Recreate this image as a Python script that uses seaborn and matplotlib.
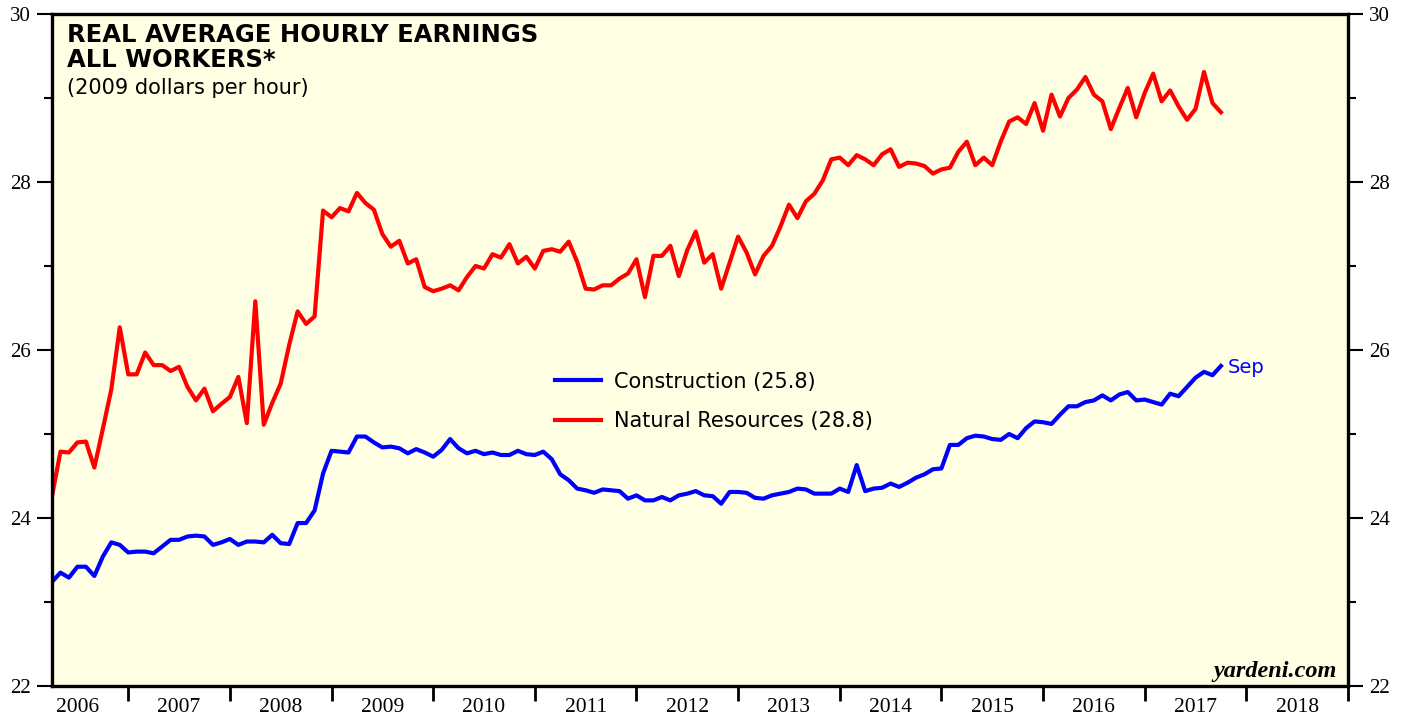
import numpy as np
import pandas as pd
import matplotlib
matplotlib.use("Agg")
import matplotlib.pyplot as plt
from matplotlib.ticker import FixedLocator, NullFormatter, FixedFormatter
import seaborn as sns

# ---------------- data (monthly, Mar 2006 - Sep 2017) ----------------
start_year, start_month = 2006, 3
series_names = ["Construction", "Natural Resources"]
legend_labels = ["Construction (25.8)", "Natural Resources (28.8)"]

construction = [
    23.24, 23.35, 23.29, 23.42, 23.42, 23.31, 23.54, 23.71, 23.68, 23.59,
    23.60, 23.60, 23.58, 23.66, 23.74, 23.74, 23.78, 23.79, 23.78, 23.68,
    23.71, 23.75, 23.68, 23.72, 23.72, 23.71, 23.80, 23.70, 23.69, 23.94,
    23.94, 24.09, 24.53, 24.80, 24.79, 24.78, 24.97, 24.97, 24.90, 24.84,
    24.85, 24.83, 24.77, 24.82, 24.78, 24.73, 24.81, 24.94, 24.83, 24.77,
    24.80, 24.76, 24.78, 24.75, 24.75, 24.80, 24.76, 24.75, 24.79, 24.70,
    24.52, 24.45, 24.35, 24.33, 24.30, 24.34, 24.33, 24.32, 24.23, 24.27,
    24.21, 24.21, 24.25, 24.21, 24.27, 24.29, 24.32, 24.27, 24.26, 24.17,
    24.31, 24.31, 24.30, 24.24, 24.23, 24.27, 24.29, 24.31, 24.35, 24.34,
    24.29, 24.29, 24.29, 24.35, 24.31, 24.63, 24.32, 24.35, 24.36, 24.41,
    24.37, 24.42, 24.48, 24.52, 24.58, 24.59, 24.87, 24.87, 24.95, 24.98,
    24.97, 24.94, 24.93, 25.00, 24.95, 25.07, 25.15, 25.14, 25.12, 25.23,
    25.33, 25.33, 25.38, 25.40, 25.46, 25.40, 25.47, 25.50, 25.40, 25.41,
    25.38, 25.35, 25.48, 25.45, 25.56, 25.67, 25.74, 25.70, 25.81,
]

natural_resources = [
    24.26, 24.79, 24.78, 24.90, 24.91, 24.60, 25.06, 25.53, 26.27, 25.71,
    25.71, 25.97, 25.82, 25.82, 25.75, 25.80, 25.56, 25.40, 25.54, 25.27,
    25.36, 25.44, 25.68, 25.13, 26.58, 25.11, 25.37, 25.60, 26.06, 26.46,
    26.31, 26.40, 27.66, 27.58, 27.69, 27.65, 27.87, 27.75, 27.67, 27.38,
    27.23, 27.30, 27.03, 27.08, 26.75, 26.70, 26.73, 26.77, 26.71, 26.87,
    27.00, 26.97, 27.14, 27.10, 27.26, 27.03, 27.11, 26.97, 27.18, 27.20,
    27.17, 27.29, 27.05, 26.73, 26.72, 26.77, 26.77, 26.85, 26.91, 27.08,
    26.63, 27.12, 27.12, 27.24, 26.88, 27.19, 27.41, 27.04, 27.14, 26.73,
    27.04, 27.35, 27.16, 26.90, 27.12, 27.24, 27.47, 27.73, 27.57, 27.77,
    27.86, 28.02, 28.27, 28.29, 28.20, 28.32, 28.27, 28.20, 28.33, 28.39,
    28.18, 28.23, 28.22, 28.19, 28.10, 28.15, 28.17, 28.36, 28.48, 28.20,
    28.29, 28.20, 28.48, 28.72, 28.77, 28.69, 28.94, 28.61, 29.04, 28.78,
    29.00, 29.10, 29.25, 29.04, 28.96, 28.63, 28.88, 29.12, 28.77, 29.06,
    29.29, 28.96, 29.09, 28.90, 28.74, 28.87, 29.31, 28.94, 28.83,
]

year_labels = [str(y) for y in range(2006, 2019)]
y_tick_values = [22, 24, 26, 28, 30]

# ---------------- build frame ----------------
dates = pd.date_range(f"{start_year}-{start_month:02d}-01", periods=len(construction), freq="MS")
xpos = dates.year + dates.month / 12.0  # plotted at month end
df = pd.concat([
    pd.DataFrame({"x": xpos, "value": construction, "series": series_names[0]}),
    pd.DataFrame({"x": xpos, "value": natural_resources, "series": series_names[1]}),
], ignore_index=True)

# ---------------- figure ----------------
plt.rcParams["font.family"] = ["Liberation Serif", "DejaVu Serif"]
fig = plt.figure(figsize=(14.08, 7.17), dpi=100)
ax = fig.add_axes([52 / 1408, 1 - 686 / 717, 1296 / 1408, 672 / 717])
ax.set_facecolor("#FFFFE4")

sns.lineplot(data=df, x="x", y="value", hue="series",
             palette={"Construction": "#0000FF", "Natural Resources": "#FF0000"},
             linewidth=3.0, ax=ax, legend=True)

ax.set_xlim(2006.25, 2019.0)
ax.set_ylim(22, 30)
ax.set_xlabel("")
ax.set_ylabel("")

# x ticks: year boundaries (major, no labels), year centres (minor, labels)
ax.xaxis.set_major_locator(FixedLocator(np.arange(2007, 2020)))
ax.xaxis.set_major_formatter(NullFormatter())
ax.xaxis.set_minor_locator(FixedLocator(np.arange(2006, 2019) + 0.5))
ax.xaxis.set_minor_formatter(FixedFormatter(year_labels))
ax.tick_params(axis="x", which="major", direction="out", length=11, width=2.0, color="black")
ax.tick_params(axis="x", which="minor", length=0, labelsize=15.5, pad=9)

# y ticks on both sides
ax.yaxis.set_major_locator(FixedLocator(y_tick_values))
ax.yaxis.set_minor_locator(FixedLocator([23, 25, 27, 29]))
ax.tick_params(axis="y", which="major", direction="out", length=11, width=1.5,
               left=True, right=True, labelleft=True, labelright=True, labelsize=15, pad=4)
ax.tick_params(axis="y", which="minor", direction="out", length=6, width=1.5,
               left=True, right=True)

for sp in ax.spines.values():
    sp.set_linewidth(2.4)
    sp.set_color("black")

sans = "DejaVu Sans"

# legend
old = ax.get_legend()
handles = old.legend_handles
leg = ax.legend(handles=handles, labels=legend_labels, loc="upper left",
                bbox_to_anchor=(0.388, 0.468),
                frameon=False, borderpad=0, borderaxespad=0, handlelength=2.2,
                handletextpad=0.65, labelspacing=0.95,
                prop={"family": sans, "size": 15})
for line in leg.get_lines():
    line.set_linewidth(3.0)

# titles
ax.text(0.0116, (686 - 42) / 672, "REAL AVERAGE HOURLY EARNINGS", transform=ax.transAxes,
        fontsize=17.5, fontweight="bold", family=sans, va="baseline", ha="left")
ax.text(0.0116, (686 - 67) / 672, "ALL WORKERS*", transform=ax.transAxes,
        fontsize=17.5, fontweight="bold", family=sans, va="baseline", ha="left")
ax.text(0.0116, (686 - 94) / 672, "(2009 dollars per hour)", transform=ax.transAxes,
        fontsize=15, family=sans, va="baseline", ha="left")

# last-point label
ax.annotate("Sep", xy=(xpos[-1], construction[-1]), xytext=(5, -1), textcoords="offset points",
            color="#0000FF", fontsize=14, family=sans, va="center", ha="left")

# source
ax.text(0.9915, (686 - 677) / 672, "yardeni.com", transform=ax.transAxes,
        fontsize=17.5, fontweight="bold", fontstyle="italic", family="Liberation Serif",
        va="baseline", ha="right")

fig.savefig("out.png", dpi=100, facecolor="white")
